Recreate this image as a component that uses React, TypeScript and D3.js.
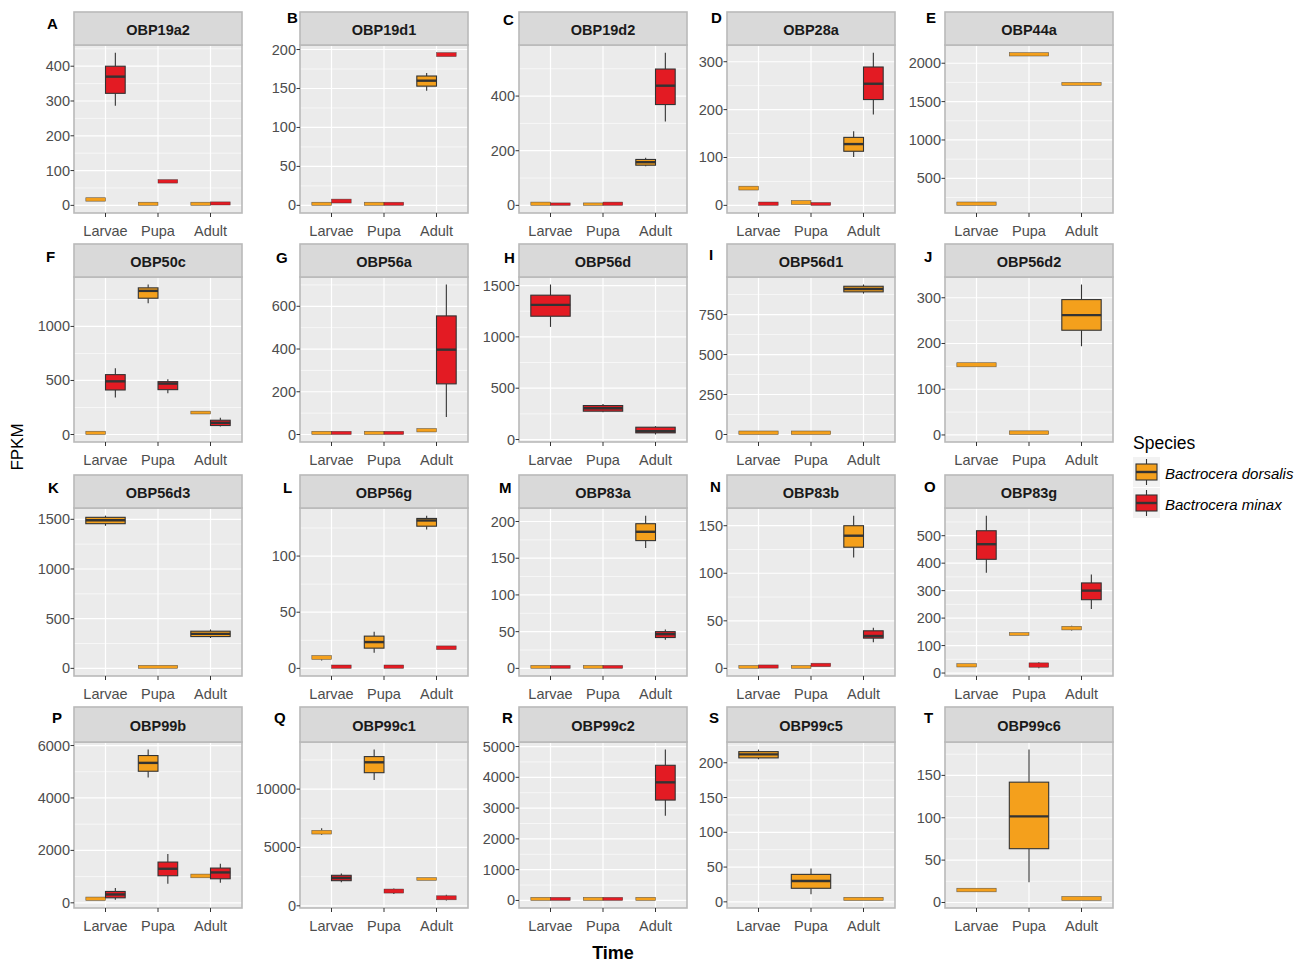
import React from "react";
import * as d3 from "d3";

// ---------- data ----------
const stages = ["Larvae", "Pupa", "Adult"];
const speciesNames = ["Bactrocera dorsalis", "Bactrocera minax"];
const genes = [
  "OBP19a2", "OBP19d1", "OBP19d2", "OBP28a", "OBP44a",
  "OBP50c", "OBP56a", "OBP56d", "OBP56d1", "OBP56d2",
  "OBP56d3", "OBP56g", "OBP83a", "OBP83b", "OBP83g",
  "OBP99b", "OBP99c1", "OBP99c2", "OBP99c5", "OBP99c6",
];
const panelLetters = ["A", "B", "C", "D", "E", "F", "G", "H", "I", "J", "K", "L", "M", "N", "O", "P", "Q", "R", "S", "T"];

type Box = [number, number, number, number, number]; // min, q1, median, q3, max

// FPKM five-number summaries per stage (Larvae, Pupa, Adult); null = species not shown
const dorsalisStats: (Box[] | null)[] = [
  [[12, 12, 17, 22, 22], [0, 0, 3, 9, 9], [0, 0, 3, 9, 9]],
  [[0, 0, 1, 4, 4], [0, 0, 1, 4, 4], [147, 153, 160, 166, 170]],
  [[0, 0, 6, 12, 12], [0, 0, 2, 9, 9], [143, 147, 158, 168, 174]],
  [[32, 32, 36, 40, 40], [2, 2, 6, 10, 10], [101, 113, 128, 142, 155]],
  [[148, 148, 170, 192, 192], [2094, 2094, 2116, 2138, 2138], [1712, 1712, 1731, 1750, 1750]],
  [[0, 0, 8, 30, 30], [1215, 1261, 1329, 1357, 1388], [190, 190, 203, 216, 216]],
  [[0, 0, 4, 15, 15], [0, 0, 4, 15, 15], [12, 12, 20, 28, 28]],
  null,
  [[0, 0, 8, 22, 22], [0, 0, 8, 22, 22], [881, 892, 910, 927, 938]],
  [[149, 149, 154, 158, 158], [1, 1, 5, 9, 9], [194, 229, 262, 296, 329]],
  [[1435, 1456, 1490, 1520, 1537], [0, 0, 10, 30, 30], [306, 320, 347, 374, 391]],
  [[7, 8, 10, 11.4, 11.4], [13.8, 18, 23.4, 28.7, 32.6], [123.6, 126.6, 131.7, 133.5, 136]],
  [[0, 0, 1, 4, 4], [0, 0, 1, 4, 4], [164, 174, 186, 197, 208]],
  [[0, 0, 0.5, 3, 3], [0, 0, 0.5, 3, 3], [116.5, 127.4, 139.5, 150, 160.6]],
  [[22, 22, 28, 34, 34], [137, 137, 142, 147, 147], [155, 157, 164, 170, 172]],
  [[90, 90, 153, 220, 220], [4777, 5019, 5338, 5618, 5847], [955, 955, 1030, 1096, 1096]],
  [[6092, 6149, 6322, 6466, 6638], [10776, 11408, 12299, 12787, 13391], [2184, 2184, 2299, 2414, 2414]],
  [[0, 0, 20, 100, 100], [0, 0, 20, 100, 100], [0, 0, 20, 100, 100]],
  [[205, 207, 212, 216, 219], [11, 19.5, 30, 39.5, 48], [2, 2, 4.3, 6.5, 6.5]],
  [[12.6, 12.6, 14.7, 16.8, 16.8], [24, 63.5, 101.6, 142, 180.5], [2.4, 2.4, 4.8, 7.1, 7.1]],
];

const minaxStats: (Box[] | null)[] = [
  [[286, 322, 370, 400, 439], [64, 64, 69, 74, 74], [1, 1, 5, 10, 10]],
  [[3, 3, 5, 8, 8], [0, 0, 1, 4, 4], [191, 191, 193.5, 196, 196]],
  [[0, 0, 2, 9, 9], [0, 0, 6, 12, 12], [307, 369, 438, 499, 559]],
  [[0, 0, 3, 7, 7], [0, 0, 1, 6, 6], [190, 221, 254, 289, 319]],
  null,
  [[342, 412, 492, 554, 612], [382, 415, 471, 489, 511], [74, 83, 108, 132, 154]],
  [[0, 0, 4, 15, 15], [0, 0, 4, 15, 15], [82, 237, 397, 555, 702]],
  [[1097, 1201, 1312, 1406, 1510], [266, 276, 305, 331, 347], [49, 65, 81, 120, 130]],
  null,
  null,
  null,
  [[0, 0, 1.5, 3, 3], [0, 0, 1.5, 3, 3], [16.7, 16.7, 18.3, 20, 20]],
  [[0, 0, 1, 4, 4], [0, 0, 1, 4, 4], [39, 42, 46.6, 50, 53]],
  [[0.2, 0.2, 1.8, 3.6, 3.6], [1.8, 1.8, 3.5, 5.4, 5.4], [27.5, 31.8, 34, 39.5, 42.7]],
  [[365, 414, 469, 518, 573], [17, 21, 29, 37, 40], [233, 267, 300, 328, 359]],
  [[115, 191, 318, 433, 561], [726, 1032, 1299, 1554, 1860], [764, 917, 1159, 1325, 1490]],
  [[2011, 2155, 2385, 2615, 2759], [1006, 1092, 1264, 1437, 1494], [460, 517, 690, 862, 948]],
  [[0, 0, 20, 100, 100], [0, 0, 20, 100, 100], [2750, 3261, 3837, 4391, 4902]],
  null,
  null,
];

const yTicks: number[][] = [
  [0, 100, 200, 300, 400],
  [0, 50, 100, 150, 200],
  [0, 200, 400],
  [0, 100, 200, 300],
  [500, 1000, 1500, 2000],
  [0, 500, 1000],
  [0, 200, 400, 600],
  [0, 500, 1000, 1500],
  [0, 250, 500, 750],
  [0, 100, 200, 300],
  [0, 500, 1000, 1500],
  [0, 50, 100],
  [0, 50, 100, 150, 200],
  [0, 50, 100, 150],
  [0, 100, 200, 300, 400, 500],
  [0, 2000, 4000, 6000],
  [0, 5000, 10000],
  [0, 1000, 2000, 3000, 4000, 5000],
  [0, 50, 100, 150, 200],
  [0, 50, 100, 150],
];

// ---------- layout ----------
const W = 1306;
const H = 965;
const colLeft = [74, 300, 519, 727, 945];
const panelWidth = 168;
const rowStripTop = [12, 244, 475, 707];
const rowStripBottom = [45, 277, 508, 742];
const rowPlotBottom = [213, 442, 676, 908];
const letterPos: [number, number][] = [
  [47, 29], [287, 23], [503, 25], [711, 23], [926, 23],
  [46, 262], [276, 263], [504, 263], [709, 260], [924, 262],
  [48, 493], [283, 493], [499, 493], [710, 492], [924, 492],
  [52, 723], [274, 723], [502, 723], [709, 723], [924, 723],
];

const fillColors = ["#F4A01C", "#E31B23"];
const outline = "#333333";
const FONT = "'Liberation Sans', Arial, Helvetica, sans-serif";

function Panel({ idx }: { idx: number }) {
  const col = idx % 5;
  const row = Math.floor(idx / 5);
  const left = colLeft[col];
  const right = left + panelWidth;
  const stripTop = rowStripTop[row];
  const top = rowStripBottom[row];
  const bottom = rowPlotBottom[row];

  const series = [dorsalisStats[idx], minaxStats[idx]];
  const present = series
    .map((s, k) => ({ s, k }))
    .filter((d) => d.s !== null) as { s: Box[]; k: number }[];

  const all = present.flatMap((d) => d.s.flat());
  const lo = d3.min(all) as number;
  const hi = d3.max(all) as number;
  const pad = (hi - lo) * 0.05;
  const y = d3.scaleLinear().domain([lo - pad, hi + pad]).range([bottom, top]);
  const x = d3.scalePoint<string>().domain(stages).range([left, right]).padding(0.6);
  const step = x.step();

  const ticks = yTicks[idx];
  const tStep = ticks[1] - ticks[0];
  const minor: number[] = [];
  for (let v = ticks[0] - tStep / 2; v <= ticks[ticks.length - 1] + tStep / 2 + 1e-9; v += tStep) {
    const [d0, d1] = y.domain();
    if (v >= d0 && v <= d1) minor.push(v);
  }

  const n = present.length;
  const dodgeW = 0.75 * step;
  const boxW = dodgeW / n;

  return (
    <g>
      {/* panel background and grid */}
      <rect x={left} y={top} width={panelWidth} height={bottom - top} fill="#EBEBEB" />
      {minor.map((v) => (
        <line key={"mi" + v} x1={left} x2={right} y1={y(v)} y2={y(v)} stroke="#fff" strokeWidth={0.6} />
      ))}
      {ticks.map((v) => (
        <line key={"ma" + v} x1={left} x2={right} y1={y(v)} y2={y(v)} stroke="#fff" strokeWidth={1.2} />
      ))}
      {stages.map((s) => (
        <line key={"vx" + s} x1={x(s)} x2={x(s)} y1={top} y2={bottom} stroke="#fff" strokeWidth={1.2} />
      ))}

      {/* boxplots */}
      {present.map(({ s, k }, j) =>
        s.map((b, i) => {
          const cx = x(stages[i]) as number;
          const bx = cx - dodgeW / 2 + j * boxW;
          const mid = bx + boxW / 2;
          const [mn, q1, md, q3, mx] = b;
          const yq1 = y(q1);
          const yq3 = y(q3);
          const hBox = yq1 - yq3;
          return (
            <g key={"b" + k + "-" + i}>
              {mx > q3 && <line x1={mid} x2={mid} y1={y(mx)} y2={yq3} stroke={outline} strokeWidth={1.1} />}
              {mn < q1 && <line x1={mid} x2={mid} y1={yq1} y2={y(mn)} stroke={outline} strokeWidth={1.1} />}
              <rect
                x={bx}
                y={yq3}
                width={boxW}
                height={Math.max(hBox, 0.5)}
                fill={fillColors[k]}
                stroke={outline}
                strokeWidth={hBox < 5 ? 0.6 : 1.1}
                strokeOpacity={hBox < 5 ? 0.7 : 1}
              />
              {hBox >= 5 && (
                <line x1={bx} x2={bx + boxW} y1={y(md)} y2={y(md)} stroke={outline} strokeWidth={2.4} />
              )}
            </g>
          );
        })
      )}

      {/* panel frame */}
      <rect x={left} y={top} width={panelWidth} height={bottom - top} fill="none" stroke="#B9B9B9" strokeWidth={1.6} />

      {/* strip */}
      <rect x={left} y={stripTop} width={panelWidth} height={top - stripTop} fill="#D9D9D9" stroke="#B9B9B9" strokeWidth={1.6} />
      <text
        x={(left + right) / 2}
        y={(stripTop + top) / 2 + 6.5}
        textAnchor="middle"
        fontFamily={FONT}
        fontWeight="bold"
        fontSize={14.5}
        fill="#1A1A1A"
      >
        {genes[idx]}
      </text>

      {/* y axis */}
      {ticks.map((v) => (
        <g key={"yt" + v}>
          <line x1={left - 3.5} x2={left} y1={y(v)} y2={y(v)} stroke={outline} strokeWidth={1} />
          <text
            x={left - 4}
            y={y(v) + 5}
            textAnchor="end"
            fontFamily={FONT}
            fontSize={14.5}
            fill="#4D4D4D"
          >
            {v}
          </text>
        </g>
      ))}

      {/* x axis */}
      {stages.map((s) => (
        <g key={"xt" + s}>
          <line x1={x(s)} x2={x(s)} y1={bottom} y2={bottom + 4} stroke={outline} strokeWidth={1} />
          <text x={x(s)} y={bottom + 23} textAnchor="middle" fontFamily={FONT} fontSize={14.5} fill="#4D4D4D">
            {s}
          </text>
        </g>
      ))}

      {/* panel letter */}
      <text x={letterPos[idx][0]} y={letterPos[idx][1]} fontFamily={FONT} fontWeight="bold" fontSize={15} fill="#000">
        {panelLetters[idx]}
      </text>
    </g>
  );
}

function Legend() {
  const lx = 1133;
  const keyTops = [457, 488];
  const keyW = 27;
  const keyH = 30;
  return (
    <g>
      <text x={lx} y={449} fontFamily={FONT} fontSize={17.5} fill="#000">
        Species
      </text>
      {speciesNames.map((name, k) => {
        const t = keyTops[k];
        const cx = lx + keyW / 2;
        return (
          <g key={name}>
            <rect x={lx} y={t} width={keyW} height={keyH} fill="#F2F2F2" />
            <line x1={cx} x2={cx} y1={t + 2} y2={t + keyH - 2} stroke={outline} strokeWidth={1.1} />
            <rect x={lx + 3} y={t + 7} width={keyW - 6} height={keyH - 14} fill={fillColors[k]} stroke={outline} strokeWidth={1.1} />
            <line x1={lx + 3} x2={lx + keyW - 3} y1={t + keyH / 2} y2={t + keyH / 2} stroke={outline} strokeWidth={2.4} />
            <text x={lx + 32} y={t + 22} fontFamily={FONT} fontStyle="italic" fontSize={15} fill="#000">
              {name}
            </text>
          </g>
        );
      })}
    </g>
  );
}

export default function App() {
  return (
    <svg
      width={W}
      height={H}
      viewBox={`0 0 ${W} ${H}`}
      style={{ position: "absolute", left: 0, top: 0, background: "#fff" }}
    >
      <rect x={0} y={0} width={W} height={H} fill="#fff" />
      {genes.map((g, i) => (
        <Panel key={g} idx={i} />
      ))}
      <Legend />
      <text
        transform="translate(23,447) rotate(-90)"
        textAnchor="middle"
        fontFamily={FONT}
        fontSize={17}
        fill="#000"
      >
        FPKM
      </text>
      <text x={613} y={959} textAnchor="middle" fontFamily={FONT} fontWeight="bold" fontSize={18} fill="#000">
        Time
      </text>
    </svg>
  );
}
